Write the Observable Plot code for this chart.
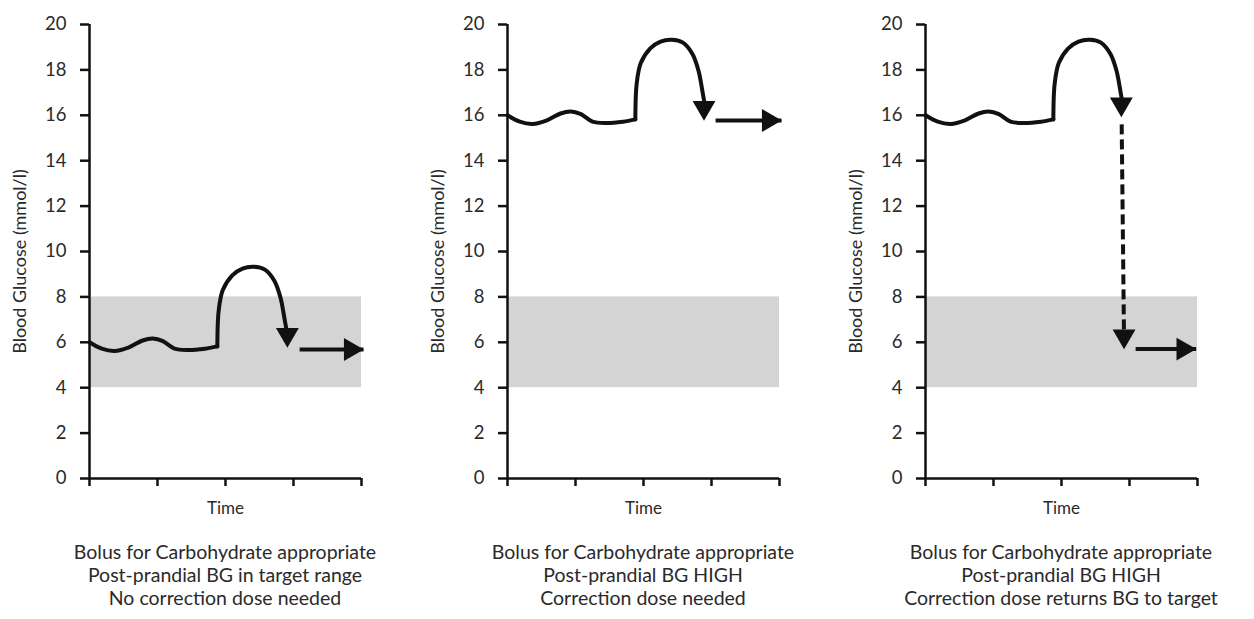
<!DOCTYPE html>
<html><head><meta charset="utf-8">
<script src="https://cdn.jsdelivr.net/npm/d3@7"></script>
<script src="https://cdn.jsdelivr.net/npm/@observablehq/plot@0.6"></script>
<style>
body{margin:0;background:#fff;font-family:Lato, "Open Sans", sans-serif;}
#row{display:flex;width:1254px;}
.panel{width:418px;}
.cap{position:relative;left:16px;width:418px;text-align:center;font-size:19.5px;line-height:23px;color:#2a2a2a;margin-top:20px;font-family:Lato, sans-serif;}
</style></head><body><div id="row"></div>
<script>
// ---- data ----
const yTicks = [0, 2, 4, 6, 8, 10, 12, 14, 16, 18, 20];
const xTicks = [0, 1, 2, 3, 4];
const targetLow = 4, targetHigh = 8, timeStart = 0, timeEnd = 4;

// wavy pre-meal segment (time units, mmol/l)
const waveX = [0, 0.18, 0.37, 0.58, 0.78, 0.93, 1.08, 1.25, 1.45, 1.7, 1.88];
const waveYInRange = [6.0, 5.72, 5.62, 5.78, 6.08, 6.17, 6.05, 5.72, 5.66, 5.72, 5.82];
const waveYHigh = [16.0, 15.72, 15.62, 15.78, 16.08, 16.17, 16.05, 15.72, 15.66, 15.72, 15.82];

// post-meal rise / peak / fall segment
const riseX = [1.88, 1.9, 1.96, 2.1, 2.25, 2.42, 2.58, 2.72, 2.81, 2.87, 2.9];
const riseYInRange = [5.82, 7.4, 8.3, 8.95, 9.25, 9.33, 9.2, 8.7, 7.95, 7.0, 6.5];
const riseYHigh = [15.82, 17.4, 18.3, 18.95, 19.25, 19.33, 19.2, 18.7, 17.95, 17.0, 16.5];

// arrow tips
const fallTipX = [2.91, 2.89, 2.88];
const fallTipY = [5.77, 15.77, 15.92];
const flatStartX = [3.09, 3.06, 3.09];
const flatEndX = [4.03, 4.03, 3.98];
const flatY = [5.68, 15.77, 5.7];

// correction (dashed) arrow, panel 3
const corrX1 = 2.885, corrY1 = 15.6, corrX2 = 2.92, corrY2 = 6.0, corrTipY = 5.7;

const captions = [
  ["Bolus for Carbohydrate appropriate", "Post-prandial BG in target range", "No correction dose needed"],
  ["Bolus for Carbohydrate appropriate", "Post-prandial BG HIGH", "Correction dose needed"],
  ["Bolus for Carbohydrate appropriate", "Post-prandial BG HIGH", "Correction dose returns BG to target"]
];

// ---- drawing ----
const band = [{x1: timeStart, x2: timeEnd, y1: targetLow, y2: targetHigh}];
const arrowR = 8.5, tipOff = 13;
const ink = "#111";

function makePanel(i) {
  const waveY = i === 0 ? waveYInRange : waveYHigh;
  const riseY = i === 0 ? riseYInRange : riseYHigh;
  const wave = waveX.map((x, k) => ({x, y: waveY[k]}));
  const rise = riseX.map((x, k) => ({x, y: riseY[k]}));
  const flat = [{x1: flatStartX[i], x2: flatEndX[i], y: flatY[i]}];
  const marks = [
    Plot.rect(band, {x1: "x1", x2: "x2", y1: "y1", y2: "y2", fill: "#d4d4d4"}),
    Plot.axisY({ticks: yTicks, tickSize: 9, tickPadding: 14, strokeWidth: 2.5, stroke: ink, label: null, fontSize: 18.5, fill: "#2a2a2a"}),
    Plot.axisX({ticks: xTicks, tickSize: 8, tickFormat: () => "", strokeWidth: 2.5, stroke: ink, label: null}),
    Plot.ruleX([timeStart], {strokeWidth: 2.5, stroke: ink, y1: 0, y2: 20}),
    Plot.ruleY([0], {strokeWidth: 2.5, stroke: ink, x1: timeStart, x2: timeEnd}),
    Plot.line(wave, {x: "x", y: "y", curve: "catmull-rom", strokeWidth: 4, stroke: ink, strokeLinecap: "round"}),
    Plot.line(rise, {x: "x", y: "y", curve: "catmull-rom", strokeWidth: 4, stroke: ink, strokeLinecap: "round"}),
    Plot.dot([{x: fallTipX[i], y: fallTipY[i]}], {x: "x", y: "y", symbol: "triangle", r: arrowR, fill: ink, stroke: "none", rotate: 180, dy: -tipOff}),
    Plot.link(flat, {x1: "x1", x2: "x2", y1: "y", y2: "y", strokeWidth: 4, stroke: ink}),
    Plot.dot(flat, {x: "x2", y: "y", symbol: "triangle", r: arrowR, fill: ink, stroke: "none", rotate: 90, dx: -tipOff}),
    Plot.text(["Time"], {frameAnchor: "bottom", textAnchor: "middle", lineAnchor: "middle", dy: 30, fontSize: 17, fill: "#2a2a2a"}),
    Plot.text(["Blood Glucose (mmol/l)"], {frameAnchor: "left", textAnchor: "middle", lineAnchor: "middle", dx: -69, dy: 10, rotate: -90, fontSize: 18, fill: "#2a2a2a"})
  ];
  if (i === 2) {
    marks.push(Plot.link([{x1: corrX1, y1: corrY1, x2: corrX2, y2: corrY2}], {x1: "x1", y1: "y1", x2: "x2", y2: "y2", strokeWidth: 4, stroke: ink, strokeDasharray: "10,5"}));
    marks.push(Plot.dot([{x: corrX2, y: corrTipY}], {x: "x", y: "y", symbol: "triangle", r: arrowR, fill: ink, stroke: "none", rotate: 180, dy: -tipOff}));
  }
  return Plot.plot({
    width: 418, height: 520,
    marginLeft: 89, marginRight: 57, marginTop: 24, marginBottom: 42,
    x: {domain: [timeStart, timeEnd]},
    y: {domain: [0, 20]},
    style: {fontFamily: "Lato, sans-serif", fontSize: "18px", color: "#2a2a2a", background: "#fff", overflow: "visible"},
    marks
  });
}

const row = document.getElementById("row");
for (let i = 0; i < 3; i++) {
  const div = document.createElement("div");
  div.className = "panel";
  div.appendChild(makePanel(i));
  const cap = document.createElement("div");
  cap.className = "cap";
  cap.innerHTML = captions[i].map(s => `<div>${s}</div>`).join("");
  div.appendChild(cap);
  row.appendChild(div);
}
</script></body></html>
